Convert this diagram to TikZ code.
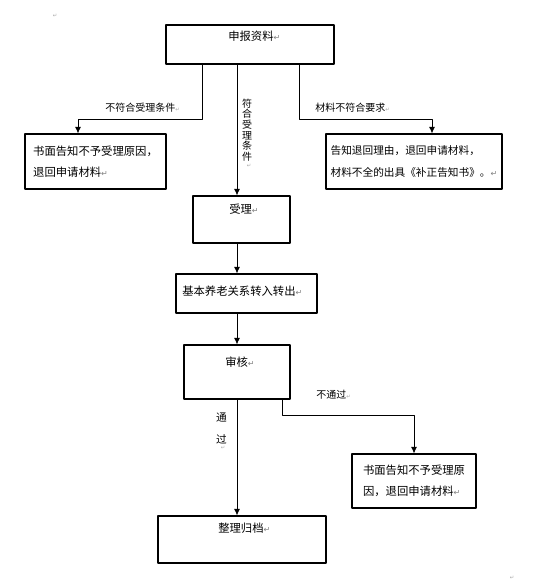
\documentclass[tikz,border=0pt]{standalone}
\usepackage{fontspec}
\newfontfamily\cjk{Noto Sans CJK SC}
\newfontfamily\dejavu{DejaVu Sans}
\usetikzlibrary{arrows.meta}

\newcommand\retmark{{\dejavu\color{gray}\fontsize{6}{6}\selectfont ↵}}
\newcommand\tinymark{{\dejavu\color{gray!70}\fontsize{4}{4}\selectfont ↵}}

\begin{document}
\begin{tikzpicture}[x=0.75pt,y=-0.75pt,line cap=round,line join=round,
    box/.style={draw,line width=0.8pt,inner sep=0pt},
    txt/.style={font=\cjk\fontsize{8.5}{16}\selectfont,inner sep=0pt,anchor=west},
    lbl/.style={font=\cjk\fontsize{7.5}{8}\selectfont,inner sep=0pt},
    arr/.style={-{Latex[length=5pt,width=4.5pt]},line width=0.6pt}]
        \useasboundingbox (0,0) rectangle (532,588);

        % boxes
        \node[box,minimum width=126pt,minimum height=29.25pt] (sb) at (250,44.5) {};
        \node[box,minimum width=105.75pt,minimum height=41.25pt,align=left,
              font=\cjk\fontsize{8.5}{16}\selectfont] (lb) at (95.5,161.5)
            {书面告知不予受理原因，\\退回申请材料\retmark};
        \node[box,minimum width=132pt,minimum height=41.25pt,align=left,
              font=\cjk\fontsize{8}{16}\selectfont] (rb) at (414,161.5)
            {告知退回理由，退回申请材料，\\材料不全的出具《补正告知书》。\retmark};
        \node[box,minimum width=72.75pt,minimum height=35.25pt] (sl) at (241.5,219.5) {};
        \node[box,minimum width=105.75pt,minimum height=29.25pt] (zc) at (246.5,293.5) {};
        \node[box,minimum width=79.5pt,minimum height=40.5pt] (sh) at (237,372) {};
        \node[box,minimum width=126pt,minimum height=35.25pt] (gd) at (242,539.5) {};
        \node[box,minimum width=93pt,minimum height=40.5pt,align=left,
              font=\cjk\fontsize{8.5}{16}\selectfont] (bt) at (414,481)
            {书面告知不予受理原\\因，退回申请材料\retmark};

        % box texts
        \node[txt] (sb-t) at (228,36) {申报资料\retmark};
        \node[txt] (sl-t) at (229,209) {受理\retmark};
        \node[txt] (zc-t) at (182,291) {基本养老关系转入转出\retmark};
        \node[txt] (sh-t) at (225,362) {审核\retmark};
        \node[txt] (gd-t) at (218,528.5) {整理归档\retmark};

        % connectors
        \coordinate (lk) at (202,119);
        \coordinate (lt) at (78,119);
        \coordinate (rk) at (299,119);
        \coordinate (rt) at (432,119);
        \coordinate (mx) at (237,0);
        \coordinate (nk) at (282,415);
        \coordinate (nt) at (414,415);
        \draw[arr] (sb.south -| lk) -- (lk) -- (lt) -- (lb.north -| lt);
        \draw[arr] (sb.south -| rk) -- (rk) -- (rt) -- (rb.north -| rt);
        \draw[arr] (sb.south -| mx) -- (sl.north -| mx);
        \draw[arr] (sl.south -| mx) -- (zc.north -| mx);
        \draw[arr] (zc.south -| mx) -- (sh.north -| mx);
        \draw[arr] (sh.south -| mx) -- (gd.north -| mx);
        \draw[arr] (sh.south -| nk) -- (nk) -- (nt) -- (bt.north -| nt);

        % labels
        \node[lbl,anchor=west] (l-no) at (105,108) {不符合受理条件\tinymark};
        \node[lbl,anchor=west] (l-mat) at (315,108) {材料不符合要求\tinymark};
        \node[lbl,align=center] (l-yes) at (247,130) {符\\合\\受\\理\\条\\件};
        \node[inner sep=0pt] (l-yes-m) at (249,166) {\tinymark};
        \node[lbl,anchor=west] (l-fail) at (316,395) {不通过\tinymark};
        \node[lbl,font=\cjk\fontsize{8}{8}\selectfont] (l-pass1) at (221.5,417.5) {通};
        \node[lbl,font=\cjk\fontsize{8}{8}\selectfont] (l-pass2) at (221.5,439) {过};
        \node[inner sep=0pt] (l-pass-m) at (223,448) {\tinymark};
        \node[inner sep=0pt] (m-top) at (55,16) {\tinymark};
        \node[inner sep=0pt] (m-bot) at (512,578) {\tinymark};
    \end{tikzpicture}
\end{document}
